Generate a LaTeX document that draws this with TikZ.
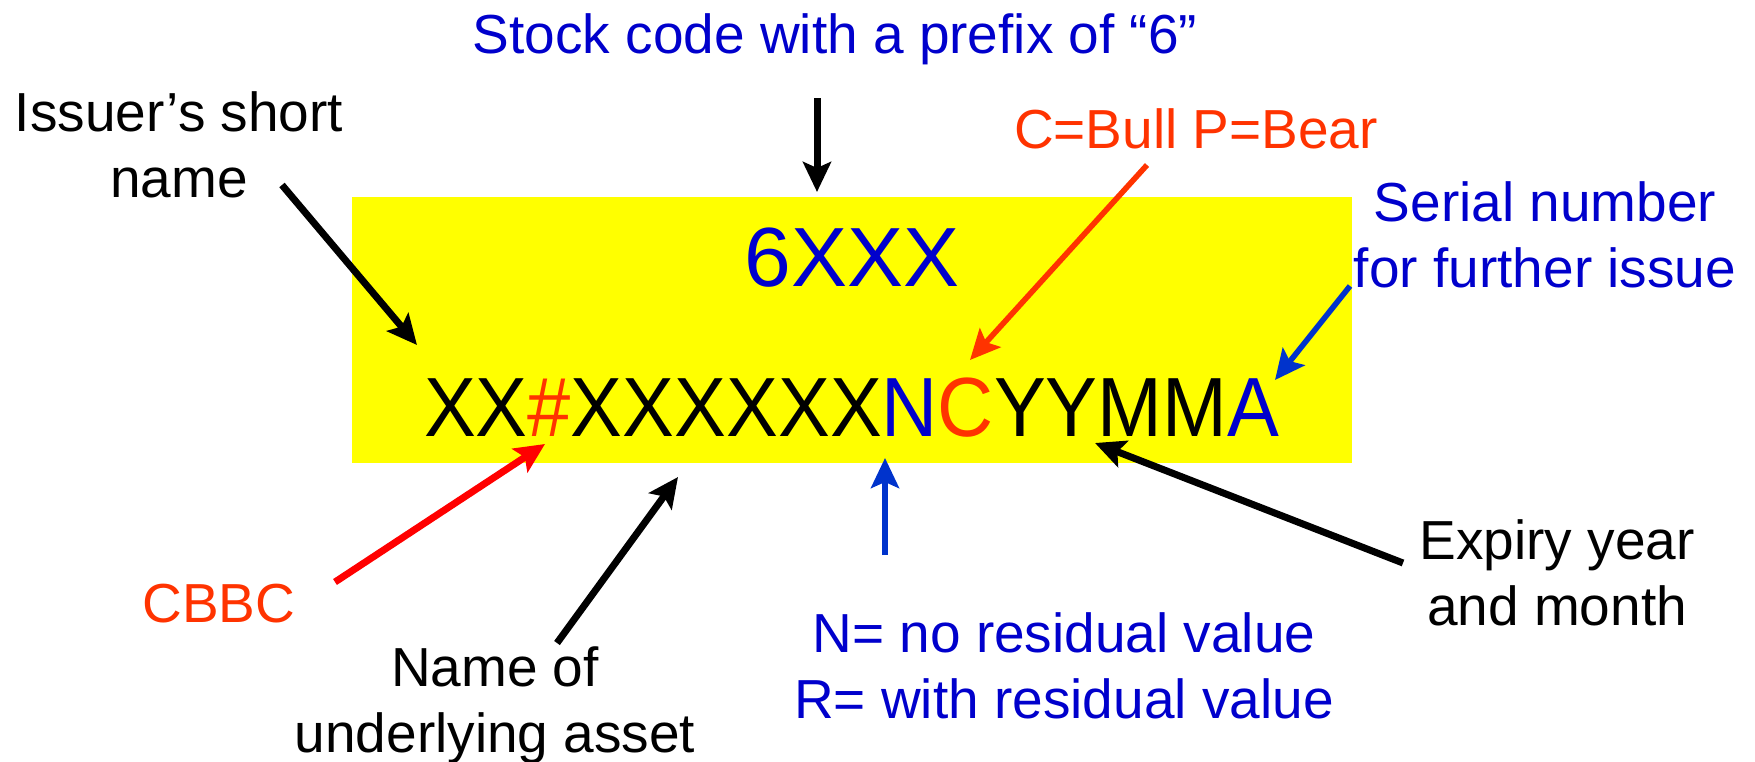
\documentclass[tikz,border=0pt]{standalone}
\usepackage{fontspec}
\usepackage{graphicx}
\setmainfont{Liberation Sans}
\usetikzlibrary{arrows.meta}

\definecolor{lblblue}{RGB}{0,0,204}
\definecolor{arrblue}{RGB}{0,51,204}
\definecolor{orred}{RGB}{255,51,0}
\definecolor{purered}{RGB}{255,0,0}
\definecolor{boxyellow}{RGB}{255,255,0}

\tikzset{
  lbl/.style={inner sep=0pt, anchor=base, align=center,
    font=\fontsize{27.5pt}{33pt}\selectfont},
  big/.style={inner sep=0pt, anchor=base,
    font=\fontsize{42pt}{48pt}\selectfont},
  pointer/.style={line width=3.5pt,
    -{Stealth[length=15pt,width=14pt,inset=3pt]}},
  thinpointer/.style={pointer, line width=2.8pt},
}

\begin{document}
\begin{tikzpicture}[x=0.5pt,y=-0.5pt]
\useasboundingbox (0,0) rectangle (1755,761);

% code panel
\node[fill=boxyellow, inner sep=0pt, minimum width=500pt, minimum height=133pt]
  (panel) at (852,330) {};
\node[big, text=lblblue] (prefix) at (852,286) {6XXX};
\node[big] (code) at (851.5,436) {\scalebox{0.925}[1]{XX{\color{orred}\#}XXXXXX{\color{lblblue}N}{\color{orred}C}YYMM{\color{lblblue}A}}};

% labels (base anchor sits on the last line)
\node[lbl, text=lblblue] (stock) at (835,53) {Stock code with a prefix of “6”};
\node[lbl] (issuer) at (179,197) {Issuer’s short\\name};
\node[lbl, text=orred] (bullbear) at (1196,148) {C=Bull P=Bear};
\node[lbl, text=lblblue] (serial) at (1545,287) {Serial number\\for further issue};
\node[lbl, text=orred] (cbbc) at (219,622) {CBBC};
\node[lbl] (asset) at (495,752) {Name of\\underlying asset};
\node[lbl, text=lblblue] (residual) at (1064,718) {N= no residual value\\R= with residual value};
\node[lbl] (expiry) at (1557,625) {Expiry year\\and month};

% arrow ends
\coordinate (stockS) at (817,98);    \coordinate (stockE) at (817,192);
\coordinate (issuerS) at (282,185);  \coordinate (issuerE) at (417,345);
\coordinate (bullS) at (1147,165);   \coordinate (bullE) at (970,360);
\coordinate (serialS) at (1350,286); \coordinate (serialE) at (1275,380);
\coordinate (cbbcS) at (335,582);    \coordinate (cbbcE) at (545,444);
\coordinate (assetS) at (557,643);   \coordinate (assetE) at (678,477);
\coordinate (resS) at (885,555);     \coordinate (resE) at (885,458);
\coordinate (expS) at (1403,563);    \coordinate (expE) at (1095,443);

% pointers
\draw[pointer] (stockS) -- (stockE);
\draw[pointer] (issuerS) -- (issuerE);
\draw[thinpointer, orred] (bullS) -- (bullE);
\draw[thinpointer, arrblue] (serialS) -- (serialE);
\draw[pointer, purered] (cbbcS) -- (cbbcE);
\draw[pointer] (assetS) -- (assetE);
\draw[thinpointer, arrblue] (resS) -- (resE);
\draw[pointer] (expS) -- (expE);
\end{tikzpicture}
\end{document}
